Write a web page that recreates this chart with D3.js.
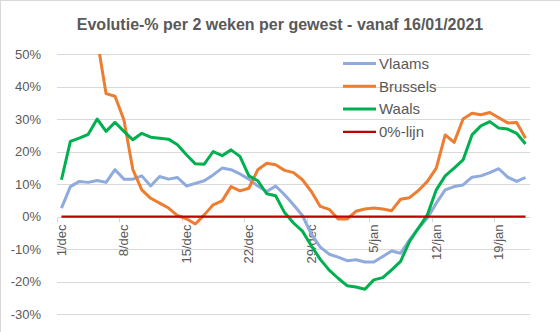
<!DOCTYPE html>
<html>
<head>
<meta charset="utf-8">
<script src="https://cdn.jsdelivr.net/npm/d3@7/dist/d3.min.js"></script>
<style>
  html, body { margin: 0; padding: 0; background: #fff; }
  svg { display: block; }
  text { font-family: "Liberation Sans", Arial, sans-serif; fill: #595959; }
</style>
</head>
<body>
<svg id="chart" width="560" height="332"></svg>
<script>
const categories = [
  "1/dec","2/dec","3/dec","4/dec","5/dec","6/dec","7/dec","8/dec","9/dec","10/dec",
  "11/dec","12/dec","13/dec","14/dec","15/dec","16/dec","17/dec","18/dec","19/dec","20/dec",
  "21/dec","22/dec","23/dec","24/dec","25/dec","26/dec","27/dec","28/dec","29/dec","30/dec",
  "31/dec","1/jan","2/jan","3/jan","4/jan","5/jan","6/jan","7/jan","8/jan","9/jan",
  "10/jan","11/jan","12/jan","13/jan","14/jan","15/jan","16/jan","17/jan","18/jan","19/jan",
  "20/jan","21/jan","22/jan"
];
const xTickLabels = ["1/dec","8/dec","15/dec","22/dec","29/dec","5/jan","12/jan","19/jan"];
const yTicks = [-30,-20,-10,0,10,20,30,40,50];

const vlaams = [
  2.6, 9.2, 10.8, 10.5, 11.1, 10.5, 14.4, 11.5, 11.5, 12.5,
  9.4, 12.3, 11.5, 12.0, 9.4, 10.2, 11.0, 12.8, 14.9, 14.4,
  13.1, 11.5, 9.4, 7.7, 9.4, 6.7, 3.6, 0.3, -5.4, -9.4,
  -11.6, -12.5, -13.6, -13.3, -14.0, -14.0, -12.3, -10.6, -11.3, -7.2,
  -3.6, -0.5, 4.1, 8.2, 9.2, 9.7, 12.1, 12.5, 13.5, 14.7,
  12.1, 10.8, 12.0
];
const brussels = [
  70, 66, 62, 58, 54.5, 37.8, 37.0, 29.7, 14.4, 8.2,
  5.6, 4.1, 2.6, 0.3, -0.7, -2.3, 0.5, 3.6, 4.8, 9.2,
  7.9, 8.7, 14.4, 16.4, 15.9, 14.2, 13.5, 11.3, 7.7, 3.1,
  2.2, -0.8, -0.8, 1.6, 2.3, 2.6, 2.3, 1.8, 5.3, 5.8,
  8.0, 10.8, 14.9, 25.1, 22.8, 30.0, 31.8, 31.3, 32.0, 30.4,
  28.8, 28.9, 24.1
];
const waals = [
  11.3, 23.1, 24.1, 25.3, 30.0, 26.2, 29.0, 26.2, 23.6, 25.6,
  24.4, 24.1, 23.8, 22.1, 19.0, 16.2, 16.1, 20.0, 18.7, 20.5,
  18.5, 12.5, 11.0, 7.0, 6.4, 1.2, -2.0, -4.5, -9.0, -13.2,
  -16.5, -19.0, -21.3, -21.7, -22.4, -19.5, -18.8, -16.4, -13.8, -7.7,
  -3.6, 0.5, 8.2, 12.5, 14.9, 17.4, 25.1, 27.9, 29.2, 27.2,
  26.9, 25.6, 22.3
];
const nulLijn = [
  0,0,0,0,0,0,0,0,0,0, 0,0,0,0,0,0,0,0,0,0,
  0,0,0,0,0,0,0,0,0,0, 0,0,0,0,0,0,0,0,0,0,
  0,0,0,0,0,0,0,0,0,0, 0,0,0
];
const seriesNames = ["Vlaams","Brussels","Waals","0%-lijn"];
const seriesColors = ["#8faadc","#ed7d31","#00b050","#c00000"];
const seriesWidths = [3, 3, 3, 2.25];
const seriesValues = [vlaams, brussels, waals, nulLijn];
const title = "Evolutie-% per 2 weken per gewest - vanaf 16/01/2021";

const svg = d3.select("#chart");
const W = 560, H = 332;
const plot = {left: 57, right: 530, top: 54, bottom: 314};

// chart border (only top/left visible in frame)
svg.append("rect").attr("x", 0.5).attr("y", 0.5).attr("width", W + 10).attr("height", H + 10)
  .attr("fill", "#fff").attr("stroke", "#d9d9d9").attr("stroke-width", 1);

const x = d3.scaleBand().domain(categories).range([plot.left, plot.right]).padding(0);
const y = d3.scaleLinear().domain([-30, 50]).range([plot.bottom, plot.top]);
const cx = c => x(c) + x.bandwidth() / 2;

// title
svg.append("text").attr("x", 280).attr("y", 30).attr("text-anchor", "middle")
  .style("font-size", "16px").style("font-weight", "bold").text(title);

// gridlines
svg.append("g").selectAll("line").data(yTicks).join("line")
  .attr("x1", plot.left).attr("x2", plot.right)
  .attr("y1", d => Math.round(y(d)) + 0.5).attr("y2", d => Math.round(y(d)) + 0.5)
  .attr("stroke", "#d9d9d9").attr("stroke-width", 1);

// y axis labels
const yAxis = d3.axisLeft(y).tickValues(yTicks).tickSize(0).tickPadding(0)
  .tickFormat(d => d + "%");
const gy = svg.append("g").attr("transform", `translate(${41},0)`).call(yAxis);
gy.select(".domain").remove();
gy.selectAll("text").style("font-size", "13px").style("fill", "#595959")
  .style("font-family", '"Liberation Sans", Arial, sans-serif');

// x axis at 0%
const y0 = Math.round(y(0)) + 0.5;
const gx = svg.append("g").attr("transform", `translate(0,${y0})`);
gx.append("line").attr("x1", plot.left).attr("x2", plot.right).attr("y1", 0).attr("y2", 0)
  .attr("stroke", "#d9d9d9");
gx.selectAll("line.tick").data(xTickLabels).join("line").attr("class", "tick")
  .attr("x1", d => Math.round(x(d)) + 0.5).attr("x2", d => Math.round(x(d)) + 0.5)
  .attr("y1", 0).attr("y2", 5).attr("stroke", "#d9d9d9");
gx.selectAll("text").data(xTickLabels).join("text")
  .attr("transform", d => `translate(${cx(d)},7) rotate(-90)`)
  .attr("text-anchor", "end").attr("dy", "0.35em")
  .style("font-size", "13px").text(d => d);

// clip
svg.append("clipPath").attr("id", "clip").append("rect")
  .attr("x", plot.left - 5).attr("y", plot.top).attr("width", plot.right - plot.left + 10)
  .attr("height", plot.bottom - plot.top);

const line = d3.line().x((d, i) => cx(categories[i])).y(d => y(d));
const gl = svg.append("g").attr("clip-path", "url(#clip)");
seriesValues.forEach((vals, k) => {
  gl.append("path").datum(vals).attr("d", line).attr("fill", "none")
    .attr("stroke", seriesColors[k]).attr("stroke-width", seriesWidths[k])
    .attr("stroke-linejoin", "round");
});

// legend
const lg = svg.append("g");
seriesNames.forEach((n, k) => {
  const yy = 63.5 + k * 22.8;
  lg.append("line").attr("x1", 343).attr("x2", 376).attr("y1", yy).attr("y2", yy)
    .attr("stroke", seriesColors[k]).attr("stroke-width", seriesWidths[k]);
  lg.append("text").attr("x", 379).attr("y", yy).attr("dy", "0.35em")
    .style("font-size", "15px").text(n);
});
</script>
</body>
</html>
